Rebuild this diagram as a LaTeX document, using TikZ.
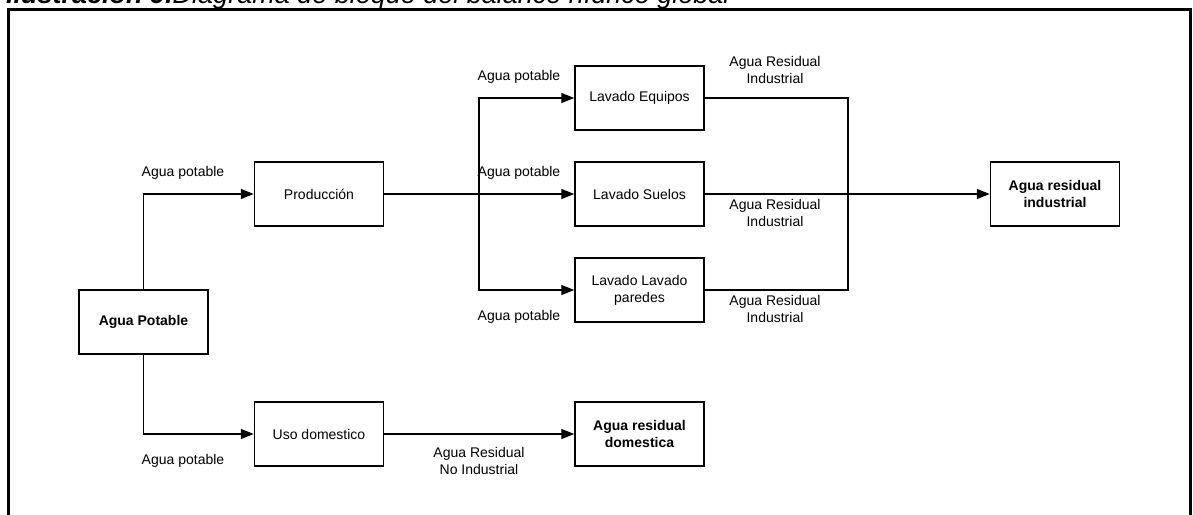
\documentclass[tikz,border=0pt]{standalone}
\usepackage{fontspec}
\setmainfont{Liberation Sans}
\usetikzlibrary{arrows.meta}
\begin{document}
\begin{tikzpicture}[x=1pt,y=-1pt,
  blk/.style={draw,line width=1.5pt,minimum width=129pt,minimum height=64pt,inner sep=2pt,align=center,font=\fontsize{14}{17}\selectfont},
  bblk/.style={blk,font=\fontsize{14}{17}\selectfont\bfseries},
  lbl/.style={align=center,inner sep=0pt,font=\fontsize{14}{17}\selectfont},
  conn/.style={line width=1.5pt},
  arr/.style={conn,-{Triangle[length=13pt,width=10pt]}}]
\useasboundingbox (0,0) rectangle (1193,514);
\begin{scope}
\clip (0,0) rectangle (1193,514);
\node[anchor=base west,inner sep=0pt,font=\fontsize{27}{30}\selectfont] (cap) at (6,4)
  {\textbf{\textit{Ilustración 9.}}\textit{Diagrama de bloque del balance hídrico global}};
\draw[line width=3pt] (8.5,9.5) rectangle (1190,530);
\end{scope}
% blocks
\node[bblk] (AP) at (143.5,322) {Agua Potable};
\node[blk] (Prod) at (319,194) {Producción};
\node[blk] (Uso) at (319,434) {Uso domestico};
\node[blk] (LE) at (639.5,98) {Lavado Equipos};
\node[blk] (LS) at (639.5,194) {Lavado Suelos};
\node[blk] (LP) at (639.5,290) {Lavado Lavado\\paredes};
\node[bblk] (ARI) at (1055,194) {Agua residual\\industrial};
\node[bblk] (ARD) at (639.5,434) {Agua residual\\domestica};
% branch points
\coordinate (br) at (479,194);
\coordinate (col) at (848,194);
% connectors
\draw[arr] (AP.north) |- (Prod.west);
\draw[arr] (AP.south) |- (Uso.west);
\draw[arr] (Prod.east) -- (LS.west);
\draw[arr] (br) |- (LE.west);
\draw[arr] (br) |- (LP.west);
\draw[conn] (LE.east) -| (col) |- (LP.east);
\draw[arr] (LS.east) -- (ARI.west);
\draw[arr] (Uso.east) -- (ARD.west);
% labels
\node[lbl] (l1) at (183,173) {Agua potable};
\node[lbl] (l2) at (183,461) {Agua potable};
\node[lbl] (l3) at (519,77) {Agua potable};
\node[lbl] (l4) at (519,173) {Agua potable};
\node[lbl] (l5) at (519,317) {Agua potable};
\node[lbl] (l6) at (775,70) {Agua Residual\\Industrial};
\node[lbl] (l7) at (775,213) {Agua Residual\\Industrial};
\node[lbl] (l8) at (775,309) {Agua Residual\\Industrial};
\node[lbl] (l9) at (479,461) {Agua Residual\\No Industrial};
\end{tikzpicture}
\end{document}
